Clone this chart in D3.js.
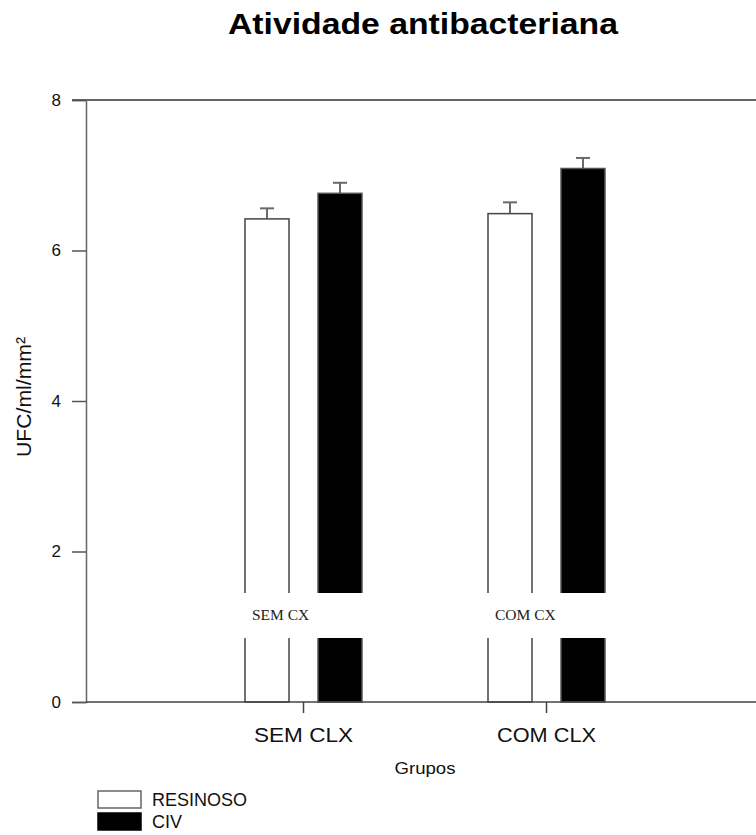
<!DOCTYPE html>
<html><head><meta charset="utf-8">
<script src="https://cdn.jsdelivr.net/npm/d3@7"></script>
<style>body{margin:0;background:#fff}svg{display:block}</style>
</head><body>
<svg id="c" width="756" height="835"></svg>
<script>
const groups = ["SEM CLX", "COM CLX"];
const series = ["RESINOSO", "CIV"];
const resinoso = [6.42, 6.49];
const civ = [6.76, 7.09];
const resinosoErr = [0.14, 0.15];
const civErr = [0.14, 0.14];
const yTicks = [0, 2, 4, 6, 8];
const maskLabels = ["SEM CX", "COM CX"];

(function () {
const svg = d3.select("#c");
const sans = "Arial, 'Liberation Sans', sans-serif";
const pLeft = 86, pRight = 756, pTop = 100, pBottom = 702;

const y = d3.scaleLinear().domain([0, 8]).range([pBottom, pTop]);
const x0 = d3.scaleBand().domain(groups).range([245, 731]).paddingInner(0).paddingOuter(0);
const x1 = d3.scaleBand().domain(series).range([0, 117]).paddingInner(29/73).paddingOuter(0);

const data = [];
groups.forEach((g, i) => {
  data.push({g, s: "RESINOSO", v: resinoso[i], e: resinosoErr[i]});
  data.push({g, s: "CIV", v: civ[i], e: civErr[i]});
});

// title
svg.append("text").attr("x", 423).attr("y", 34).attr("text-anchor", "middle")
  .attr("font-family", sans).attr("font-weight", "bold").attr("font-size", 29)
  .attr("textLength", 390).attr("lengthAdjust", "spacingAndGlyphs")
  .text("Atividade antibacteriana");

// error bars
const eg = svg.append("g").attr("stroke", "#6a6a6a").attr("stroke-width", 2);
data.forEach(d => {
  const cx = x0(d.g) + x1(d.s) + x1.bandwidth() / 2;
  eg.append("line").attr("x1", cx).attr("x2", cx).attr("y1", y(d.v)).attr("y2", y(d.v + d.e));
  eg.append("line").attr("x1", cx - 7).attr("x2", cx + 7).attr("y1", y(d.v + d.e)).attr("y2", y(d.v + d.e));
});

// bars
svg.append("g").selectAll("rect").data(data).join("rect")
  .attr("x", d => x0(d.g) + x1(d.s))
  .attr("y", d => y(d.v))
  .attr("width", x1.bandwidth())
  .attr("height", d => y(0) - y(d.v))
  .attr("fill", d => d.s === "CIV" ? "#000" : "#fff")
  .attr("stroke", d => d.s === "CIV" ? "#555" : "#444")
  .attr("stroke-width", 1.5);

// white mask band with labels
svg.append("rect").attr("x", 238).attr("y", 593).attr("width", 380).attr("height", 45).attr("fill", "#fff");
groups.forEach((g, i) => {
  svg.append("text").attr("x", x0(g) + 7).attr("y", 620)
    .attr("font-family", "'Liberation Serif', 'Times New Roman', serif").attr("font-size", 15.5)
    .attr("fill", "#222").text(maskLabels[i]);
});

// top frame line
svg.append("line").attr("x1", 72).attr("x2", pRight).attr("y1", pTop).attr("y2", pTop)
  .attr("stroke", "#333").attr("stroke-width", 1.5);

// y axis
const yAxis = svg.append("g").attr("transform", `translate(${pLeft},0)`)
  .call(d3.axisLeft(y).tickValues(yTicks).tickSize(14).tickPadding(11).tickFormat(d3.format("d")));
yAxis.select(".domain").attr("stroke", "#666").attr("stroke-width", 1.5);
yAxis.selectAll(".tick line").attr("stroke", "#555").attr("stroke-width", 1.5);
yAxis.selectAll(".tick text").attr("font-family", sans).attr("font-size", 17).attr("fill", "#111");

// x axis
const xg = svg.append("g");
xg.append("line").attr("x1", pLeft).attr("x2", pRight).attr("y1", pBottom).attr("y2", pBottom)
  .attr("stroke", "#444").attr("stroke-width", 1.5);
groups.forEach(g => {
  const cx = x0(g) + 117 / 2;
  xg.append("line").attr("x1", cx).attr("x2", cx).attr("y1", pBottom).attr("y2", pBottom + 11)
    .attr("stroke", "#444").attr("stroke-width", 1.5);
  xg.append("text").attr("x", cx).attr("y", 742).attr("text-anchor", "middle")
    .attr("font-family", sans).attr("font-size", 20)
    .attr("textLength", 99).attr("lengthAdjust", "spacingAndGlyphs").attr("fill", "#111").text(g);
});

// axis titles
svg.append("text").attr("x", 425).attr("y", 774).attr("text-anchor", "middle")
  .attr("font-family", sans).attr("font-size", 17).attr("textLength", 61).attr("lengthAdjust", "spacingAndGlyphs")
  .attr("fill", "#111").text("Grupos");
svg.append("text").attr("transform", "translate(31,397) rotate(-90)").attr("text-anchor", "middle")
  .attr("font-family", sans).attr("font-size", 20).attr("textLength", 120).attr("lengthAdjust", "spacingAndGlyphs")
  .attr("fill", "#111").text("UFC/ml/mm²");

// legend
series.forEach((s, i) => {
  const ly = 791 + i * 22;
  svg.append("rect").attr("x", 98).attr("y", ly).attr("width", 43).attr("height", 17)
    .attr("fill", s === "CIV" ? "#000" : "#fff").attr("stroke", s === "CIV" ? "#000" : "#666").attr("stroke-width", 1.5);
  svg.append("text").attr("x", 152).attr("y", ly + 15).attr("font-family", sans).attr("font-size", 18)
    .attr("fill", "#111").text(s);
});
})();
</script>
</body></html>
